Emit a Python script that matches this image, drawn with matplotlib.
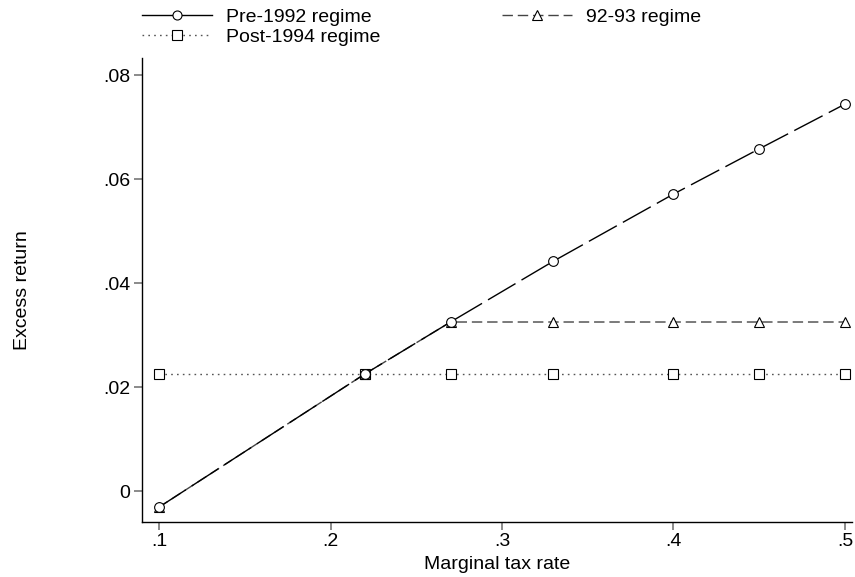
import matplotlib
matplotlib.use("Agg")
import matplotlib.pyplot as plt
from matplotlib.lines import Line2D

plt.rcParams['font.family'] = ['Liberation Sans', 'DejaVu Sans']

# Data
tax_rate = [0.10, 0.22, 0.27, 0.33, 0.40, 0.45, 0.50]
pre_1992 = [-0.0031, 0.0225, 0.0325, 0.0442, 0.0571, 0.0658, 0.0744]
regime_92_93 = [-0.0031, 0.0225, 0.0325, 0.0325, 0.0325, 0.0325, 0.0325]
post_1994 = [0.0225, 0.0225, 0.0225, 0.0225, 0.0225, 0.0225, 0.0225]

xticks = [0.1, 0.2, 0.3, 0.4, 0.5]
xtick_labels = [".1", ".2", ".3", ".4", ".5"]
yticks = [0.0, 0.02, 0.04, 0.06, 0.08]
ytick_labels = ["0", ".02", ".04", ".06", ".08"]

W, H = 855, 577
fig = plt.figure(figsize=(W / 100, H / 100), dpi=100)
ax = fig.add_axes([141.7 / W, 55 / H, (852 - 141.7) / W, (522 - 58) / H])

mk = dict(markersize=7, markerfacecolor='white', markeredgewidth=0.8)
mk_leg = dict(markersize=6.5, markerfacecolor='white', markeredgewidth=0.8)

ax.plot(tax_rate, post_1994, color='#555555', lw=1.0, linestyle=(0, (1.2, 3.0)),
        marker='s', markeredgecolor='black', zorder=2, **mk)
ax.plot(tax_rate, regime_92_93, color='#444444', lw=1.0, linestyle=(0, (7.5, 3.5)),
        marker='^', markeredgecolor='black', zorder=3, **mk)
ax.plot(tax_rate, pre_1992, color='black', lw=1.0, linestyle=(0, (23, 5)),
        marker='o', markeredgecolor='black', zorder=4, **mk)

ax.set_xlim(0.0899, 0.5041)
ax.set_ylim(-0.00596, 0.08327)
ax.set_xticks(xticks)
ax.set_xticklabels(xtick_labels)
ax.set_yticks(yticks)
ax.set_yticklabels(ytick_labels)

for s in ['top', 'right']:
    ax.spines[s].set_visible(False)
for s in ['left', 'bottom']:
    ax.spines[s].set_linewidth(1.0)
    ax.spines[s].set_color('black')

ax.tick_params(axis='both', direction='out', length=6, width=1.2, color='#777777',
               labelsize=14, pad=2)

ax.set_xlabel("Marginal tax rate", fontsize=14, labelpad=4)
ax.set_ylabel("Excess return", fontsize=14, labelpad=52)

handles = [
    Line2D([], [], color='black', lw=1.0, marker='o', markeredgecolor='black', **mk_leg),
    Line2D([], [], color='#555555', lw=1.0, linestyle=(0, (1.2, 3.0)), marker='s',
           markeredgecolor='black', **mk_leg),
    Line2D([], [], color='#444444', lw=1.0, linestyle=(0, (7.5, 3.5)), marker='^',
           markeredgecolor='black', **mk_leg),
]
labels = ["Pre-1992 regime", "Post-1994 regime", "92-93 regime"]
fig.legend(handles, labels, loc='upper left', bbox_to_anchor=(142 / W, 1 - 8 / H),
           ncol=2, frameon=False, fontsize=14, handlelength=3.6, handletextpad=0.7,
           columnspacing=6.3, labelspacing=0.12, borderpad=0, borderaxespad=0,
           numpoints=1)

fig.savefig("out.png", dpi=100)
